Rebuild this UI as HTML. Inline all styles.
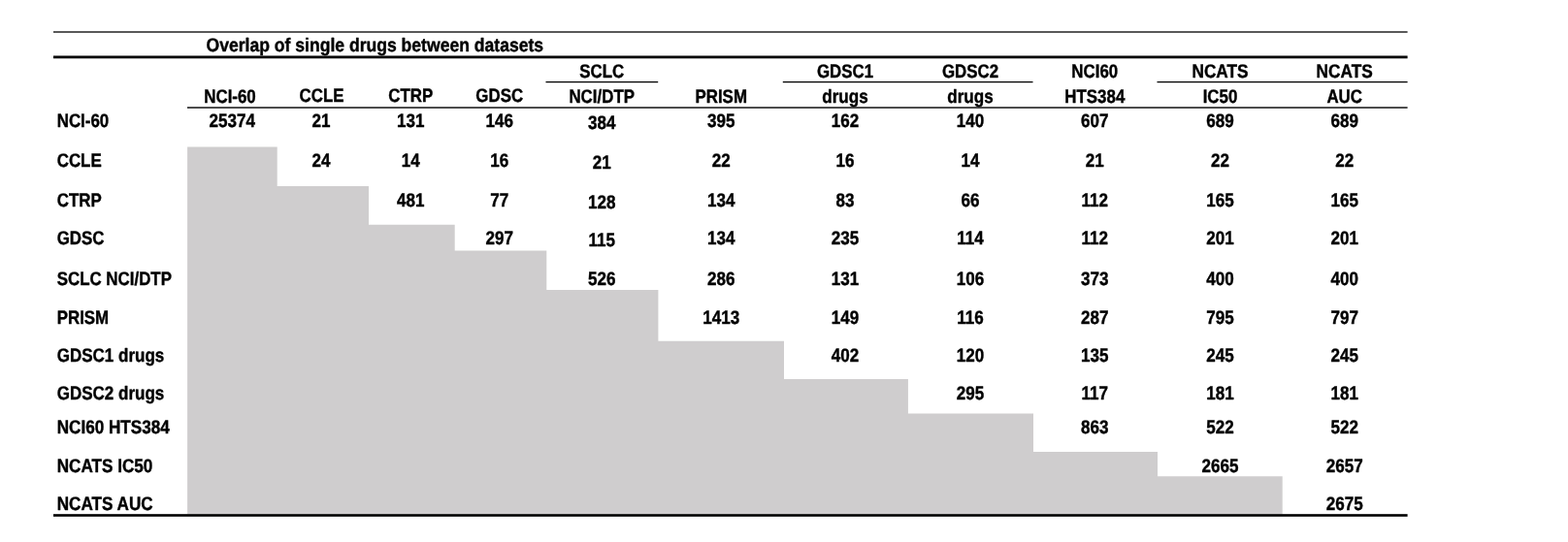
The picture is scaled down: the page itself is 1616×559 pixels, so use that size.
<!DOCTYPE html>
<html lang="en">
<head>
<meta charset="utf-8">
<title>Overlap of single drugs between datasets</title>
<style>
html,body{margin:0;padding:0;background:#fff;}
body{width:1616px;height:559px;overflow:hidden;}
svg{display:block;}
text{white-space:pre;}
</style>
</head>
<body>
<svg width="1616" height="559" viewBox="0 0 1616 559">
<rect x="0" y="0" width="1616" height="559" fill="#fff"/>
<polygon points="193.10,151.40 285.70,151.40 285.70,191.90 380.00,191.90 380.00,231.70 468.70,231.70 468.70,258.60 563.30,258.60 563.30,299.00 678.40,299.00 678.40,351.80 808.00,351.80 808.00,391.00 935.90,391.00 935.90,426.60 1065.00,426.60 1065.00,466.00 1193.00,466.00 1193.00,491.20 1321.70,491.20 1321.70,530.50 193.10,530.50" fill="#cfcdce"/>
<rect x="55" y="32.35" width="1395.6" height="1.3" fill="#000"/>
<rect x="55" y="57.50" width="1395.6" height="2.8" fill="#000"/>
<rect x="193" y="110.30" width="1257.6" height="1.4" fill="#000"/>
<rect x="562.5" y="83.95" width="115.70000000000005" height="1.3" fill="#000"/>
<rect x="806.8" y="83.95" width="257.70000000000005" height="1.3" fill="#000"/>
<rect x="1192.5" y="83.95" width="258.0999999999999" height="1.3" fill="#000"/>
<rect x="55" y="530.20" width="1395.6" height="2.6" fill="#000"/>
<g font-family="'Liberation Sans', sans-serif" font-weight="bold" text-rendering="geometricPrecision" font-size="19.5" fill="#000" stroke="#000" stroke-width="0.42" stroke-linejoin="round">
<text transform="translate(212.50 53.00) scale(0.901 1)" text-anchor="start">Overlap of single drugs between datasets</text>
<text transform="translate(237.00 105.75) scale(0.866 1)" text-anchor="middle">NCI-60</text>
<text transform="translate(331.60 104.50) scale(0.866 1)" text-anchor="middle">CCLE</text>
<text transform="translate(423.30 104.50) scale(0.866 1)" text-anchor="middle">CTRP</text>
<text transform="translate(514.70 104.50) scale(0.866 1)" text-anchor="middle">GDSC</text>
<text transform="translate(620.20 79.50) scale(0.866 1)" text-anchor="middle">SCLC</text>
<text transform="translate(620.20 106.25) scale(0.866 1)" text-anchor="middle">NCI/DTP</text>
<text transform="translate(743.20 106.25) scale(0.866 1)" text-anchor="middle">PRISM</text>
<text transform="translate(871.00 79.50) scale(0.866 1)" text-anchor="middle">GDSC1</text>
<text transform="translate(871.00 105.75) scale(0.877 1)" text-anchor="middle">drugs</text>
<text transform="translate(1000.00 79.50) scale(0.866 1)" text-anchor="middle">GDSC2</text>
<text transform="translate(1000.00 105.75) scale(0.877 1)" text-anchor="middle">drugs</text>
<text transform="translate(1128.30 79.50) scale(0.866 1)" text-anchor="middle">NCI60</text>
<text transform="translate(1128.30 105.75) scale(0.866 1)" text-anchor="middle">HTS384</text>
<text transform="translate(1257.50 79.50) scale(0.885 1)" text-anchor="middle">NCATS</text>
<text transform="translate(1257.50 105.75) scale(0.866 1)" text-anchor="middle">IC50</text>
<text transform="translate(1385.70 79.50) scale(0.885 1)" text-anchor="middle">NCATS</text>
<text transform="translate(1385.70 105.75) scale(0.866 1)" text-anchor="middle">AUC</text>
<text transform="translate(58.70 131.00) scale(0.866 1)" text-anchor="start">NCI-60</text>
<text transform="translate(239.20 131.00) scale(0.874 1)" text-anchor="middle">25374</text>
<text transform="translate(331.00 131.00) scale(0.874 1)" text-anchor="middle">21</text>
<text transform="translate(423.30 131.00) scale(0.874 1)" text-anchor="middle">131</text>
<text transform="translate(514.70 131.00) scale(0.874 1)" text-anchor="middle">146</text>
<text transform="translate(620.20 133.00) scale(0.874 1)" text-anchor="middle">384</text>
<text transform="translate(743.20 131.00) scale(0.874 1)" text-anchor="middle">395</text>
<text transform="translate(871.00 131.00) scale(0.874 1)" text-anchor="middle">162</text>
<text transform="translate(1000.00 131.00) scale(0.874 1)" text-anchor="middle">140</text>
<text transform="translate(1128.30 131.00) scale(0.874 1)" text-anchor="middle">607</text>
<text transform="translate(1257.50 131.00) scale(0.874 1)" text-anchor="middle">689</text>
<text transform="translate(1385.70 131.00) scale(0.874 1)" text-anchor="middle">689</text>
<text transform="translate(58.70 172.00) scale(0.866 1)" text-anchor="start">CCLE</text>
<text transform="translate(331.00 172.00) scale(0.874 1)" text-anchor="middle">24</text>
<text transform="translate(423.30 172.00) scale(0.874 1)" text-anchor="middle">14</text>
<text transform="translate(514.70 172.00) scale(0.874 1)" text-anchor="middle">16</text>
<text transform="translate(620.20 174.00) scale(0.874 1)" text-anchor="middle">21</text>
<text transform="translate(743.20 172.00) scale(0.874 1)" text-anchor="middle">22</text>
<text transform="translate(871.00 172.00) scale(0.874 1)" text-anchor="middle">16</text>
<text transform="translate(1000.00 172.00) scale(0.874 1)" text-anchor="middle">14</text>
<text transform="translate(1128.30 172.00) scale(0.874 1)" text-anchor="middle">21</text>
<text transform="translate(1257.50 172.00) scale(0.874 1)" text-anchor="middle">22</text>
<text transform="translate(1385.70 172.00) scale(0.874 1)" text-anchor="middle">22</text>
<text transform="translate(58.70 213.00) scale(0.866 1)" text-anchor="start">CTRP</text>
<text transform="translate(423.30 213.00) scale(0.874 1)" text-anchor="middle">481</text>
<text transform="translate(514.70 213.00) scale(0.874 1)" text-anchor="middle">77</text>
<text transform="translate(620.20 215.00) scale(0.874 1)" text-anchor="middle">128</text>
<text transform="translate(743.20 213.00) scale(0.874 1)" text-anchor="middle">134</text>
<text transform="translate(871.00 213.00) scale(0.874 1)" text-anchor="middle">83</text>
<text transform="translate(1000.00 213.00) scale(0.874 1)" text-anchor="middle">66</text>
<text transform="translate(1128.30 213.00) scale(0.874 1)" text-anchor="middle">112</text>
<text transform="translate(1257.50 213.00) scale(0.874 1)" text-anchor="middle">165</text>
<text transform="translate(1385.70 213.00) scale(0.874 1)" text-anchor="middle">165</text>
<text transform="translate(58.70 252.00) scale(0.866 1)" text-anchor="start">GDSC</text>
<text transform="translate(514.70 252.00) scale(0.874 1)" text-anchor="middle">297</text>
<text transform="translate(620.20 254.00) scale(0.874 1)" text-anchor="middle">115</text>
<text transform="translate(743.20 252.00) scale(0.874 1)" text-anchor="middle">134</text>
<text transform="translate(871.00 252.00) scale(0.874 1)" text-anchor="middle">235</text>
<text transform="translate(1000.00 252.00) scale(0.874 1)" text-anchor="middle">114</text>
<text transform="translate(1128.30 252.00) scale(0.874 1)" text-anchor="middle">112</text>
<text transform="translate(1257.50 252.00) scale(0.874 1)" text-anchor="middle">201</text>
<text transform="translate(1385.70 252.00) scale(0.874 1)" text-anchor="middle">201</text>
<text transform="translate(58.70 294.00) scale(0.866 1)" text-anchor="start">SCLC NCI/DTP</text>
<text transform="translate(620.20 294.00) scale(0.874 1)" text-anchor="middle">526</text>
<text transform="translate(743.20 294.00) scale(0.874 1)" text-anchor="middle">286</text>
<text transform="translate(871.00 294.00) scale(0.874 1)" text-anchor="middle">131</text>
<text transform="translate(1000.00 294.00) scale(0.874 1)" text-anchor="middle">106</text>
<text transform="translate(1128.30 294.00) scale(0.874 1)" text-anchor="middle">373</text>
<text transform="translate(1257.50 294.00) scale(0.874 1)" text-anchor="middle">400</text>
<text transform="translate(1385.70 294.00) scale(0.874 1)" text-anchor="middle">400</text>
<text transform="translate(58.70 334.00) scale(0.866 1)" text-anchor="start">PRISM</text>
<text transform="translate(743.20 334.00) scale(0.874 1)" text-anchor="middle">1413</text>
<text transform="translate(871.00 334.00) scale(0.874 1)" text-anchor="middle">149</text>
<text transform="translate(1000.00 334.00) scale(0.874 1)" text-anchor="middle">116</text>
<text transform="translate(1128.30 334.00) scale(0.874 1)" text-anchor="middle">287</text>
<text transform="translate(1257.50 334.00) scale(0.874 1)" text-anchor="middle">795</text>
<text transform="translate(1385.70 334.00) scale(0.874 1)" text-anchor="middle">797</text>
<text transform="translate(58.70 373.00) scale(0.872 1)" text-anchor="start">GDSC1 drugs</text>
<text transform="translate(871.00 373.00) scale(0.874 1)" text-anchor="middle">402</text>
<text transform="translate(1000.00 373.00) scale(0.874 1)" text-anchor="middle">120</text>
<text transform="translate(1128.30 373.00) scale(0.874 1)" text-anchor="middle">135</text>
<text transform="translate(1257.50 373.00) scale(0.874 1)" text-anchor="middle">245</text>
<text transform="translate(1385.70 373.00) scale(0.874 1)" text-anchor="middle">245</text>
<text transform="translate(58.70 412.00) scale(0.872 1)" text-anchor="start">GDSC2 drugs</text>
<text transform="translate(1000.00 412.00) scale(0.874 1)" text-anchor="middle">295</text>
<text transform="translate(1128.30 412.00) scale(0.874 1)" text-anchor="middle">117</text>
<text transform="translate(1257.50 412.00) scale(0.874 1)" text-anchor="middle">181</text>
<text transform="translate(1385.70 412.00) scale(0.874 1)" text-anchor="middle">181</text>
<text transform="translate(58.70 447.00) scale(0.878 1)" text-anchor="start">NCI60 HTS384</text>
<text transform="translate(1128.30 447.00) scale(0.874 1)" text-anchor="middle">863</text>
<text transform="translate(1257.50 447.00) scale(0.874 1)" text-anchor="middle">522</text>
<text transform="translate(1385.70 447.00) scale(0.874 1)" text-anchor="middle">522</text>
<text transform="translate(58.70 487.00) scale(0.878 1)" text-anchor="start">NCATS IC50</text>
<text transform="translate(1257.50 487.00) scale(0.874 1)" text-anchor="middle">2665</text>
<text transform="translate(1385.70 487.00) scale(0.874 1)" text-anchor="middle">2657</text>
<text transform="translate(58.70 526.00) scale(0.878 1)" text-anchor="start">NCATS AUC</text>
<text transform="translate(1385.70 526.00) scale(0.874 1)" text-anchor="middle">2675</text>
</g>
</svg>
</body>
</html>
